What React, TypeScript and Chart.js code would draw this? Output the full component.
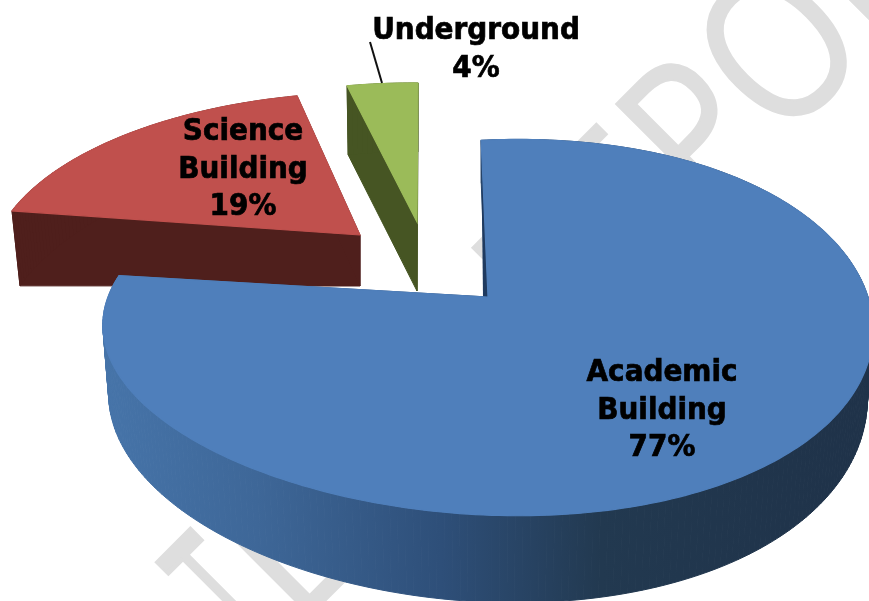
import React, { useEffect, useRef } from "react";
import { Chart, registerables } from "chart.js";

Chart.register(...registerables);

const categories = ["Academic Building", "Science Building", "Underground"];
const shares = [77.4, 18.8, 3.8];
const faceColors = ["#4f7fbb", "#c0504d", "#9bbb59"];
const sideColors = ["", "#4f1f1c", "#465523"];
const labelLines = [["Academic", "Building", "77%"], ["Science", "Building", "19%"], ["Underground", "4%"]];
const watermarkPieces = [
  { text: "T", along: -263, squeeze: 0.45, align: "center", grow: 5 },
  { text: "L", along: -233, squeeze: 0.85, align: "left", grow: 2 },
  { text: "REPORT", along: 345, squeeze: 0.85, align: "head", grow: 2 },
];

// projection styling for the exploded 3D look
const RX = 380;
const RY = 182.6;
const PERSP = 0.163;
const looks = [
  { ax: 488, ay: 297, m: [1, 0, 0, 1], bulge: 0.08, inset: 0.985, depth: 65, depthV: 22, slope: 0 },
  { ax: 360, ay: 235, m: [0.9501, -0.1128, 0.00848, 0.9074], bulge: 0, inset: 0.977, depth: 51, depthV: 0, slope: -0.069 },
  { ax: 417, ay: 222, m: [0.912, -0.0459, 0.0141, 0.885], bulge: 0, inset: 0.985, depth: 69, depthV: 0, slope: 0 },
];
const labelAnchors = [
  { x: 662, y: 373 },
  { x: 243, y: 132 },
  { x: 476, y: 31 },
];
const LINE_H = 37.5;

const project = (look: any, a: number) => {
  const u = Math.cos(a);
  const v = Math.sin(a);
  const s = 1 / (1 - PERSP * v);
  const mx = RX * u * s;
  const my = RY * v * s * (1 + look.bulge * u);
  const [p, q, r, t] = look.m;
  return { dx: p * mx + q * my, dy: r * mx + t * my, v };
};

const pie3d = {
  id: "pie3d",
  beforeDatasetsDraw(chart: any) {
    const ctx = chart.ctx as CanvasRenderingContext2D;
    // watermark behind the pie
    const sum = 926;
    for (const piece of watermarkPieces) {
      ctx.save();
      ctx.font = "204px 'Open Sans'";
      ctx.fillStyle = "#dedede";
      ctx.strokeStyle = "#dedede";
      ctx.lineWidth = piece.grow;
      ctx.lineJoin = "miter";
      const shift = piece.align === "head" ? ctx.measureText("RE").width * piece.squeeze : 0;
      const diff = (piece.along - shift) * Math.SQRT2;
      ctx.translate((sum + diff) / 2, (sum - diff) / 2);
      ctx.rotate(-Math.PI / 4);
      ctx.scale(piece.squeeze, 1);
      ctx.textBaseline = "alphabetic";
      ctx.textAlign = piece.align === "center" ? "center" : "left";
      ctx.fillText(piece.text, 0, 0);
      ctx.strokeText(piece.text, 0, 0);
      ctx.restore();
    }

    const meta = chart.getDatasetMeta(0);
    const order = [1, 2, 0];
    for (const i of order) {
      const arc = meta.data[i] as any;
      const look = looks[i];
      const top: { x: number; y: number; bx: number; by: number }[] = [];
      const addPoint = (dx: number, dy: number, v: number) => {
        top.push({
          x: look.ax + dx,
          y: look.ay + dy,
          bx: look.ax + dx * look.inset,
          by: look.ay + dy + look.depth + look.depthV * v + look.slope * dx,
        });
      };
      addPoint(0, 0, 0);
      const steps = Math.ceil(((arc.endAngle - arc.startAngle) * 180) / Math.PI);
      for (let k = 0; k <= steps; k++) {
        const a = arc.startAngle + ((arc.endAngle - arc.startAngle) * k) / steps;
        const p = project(look, a);
        addPoint(p.dx, p.dy, p.v);
      }
      let side: any = sideColors[i];
      if (i === 0) {
        const g = ctx.createLinearGradient(104, 0, 869, 0);
        g.addColorStop(0, "#4674a9");
        g.addColorStop(0.2, "#3e6798");
        g.addColorStop(0.44, "#2e4f79");
        g.addColorStop(0.65, "#223950");
        g.addColorStop(1, "#1f3249");
        side = g;
      }
      ctx.save();
      ctx.fillStyle = side;
      ctx.strokeStyle = side;
      ctx.lineWidth = 1;
      for (let k = 0; k < top.length; k++) {
        const a = top[k];
        const b = top[(k + 1) % top.length];
        ctx.beginPath();
        ctx.moveTo(a.x, a.y);
        ctx.lineTo(b.x, b.y);
        ctx.lineTo(b.bx, b.by);
        ctx.lineTo(a.bx, a.by);
        ctx.closePath();
        ctx.fill();
        ctx.stroke();
      }
      if (i === 0) {
        const start = top[1];
        ctx.fillStyle = "#1f3a5f";
        ctx.beginPath();
        ctx.moveTo(start.x, start.y);
        ctx.lineTo(look.ax, look.ay + 1);
        ctx.lineTo(look.ax - 5, look.ay + 1);
        ctx.closePath();
        ctx.fill();
      }
      ctx.fillStyle = arc.options.backgroundColor;
      ctx.strokeStyle = arc.options.backgroundColor;
      ctx.lineWidth = 1.2;
      ctx.beginPath();
      top.forEach((p, k) => (k ? ctx.lineTo(p.x, p.y) : ctx.moveTo(p.x, p.y)));
      ctx.closePath();
      ctx.fill();
      ctx.stroke();
      ctx.restore();
    }

    // leader line and labels
    ctx.save();
    ctx.strokeStyle = "#111";
    ctx.lineWidth = 2;
    ctx.beginPath();
    ctx.moveTo(370, 42);
    ctx.lineTo(382, 83);
    ctx.stroke();
    ctx.fillStyle = "#000";
    ctx.strokeStyle = "#000";
    ctx.lineWidth = 0.7;
    ctx.font = "bold 31px 'DejaVu Sans Condensed', 'DejaVu Sans'";
    ctx.textAlign = "center";
    ctx.textBaseline = "middle";
    labelLines.forEach((lines, i) => {
      lines.forEach((t, j) => {
        const y = labelAnchors[i].y + j * LINE_H;
        ctx.fillText(t, labelAnchors[i].x, y);
        ctx.strokeText(t, labelAnchors[i].x, y);
      });
    });
    ctx.restore();
    return false;
  },
};

export default function App() {
  const ref = useRef<HTMLCanvasElement>(null);
  useEffect(() => {
    document.body.style.margin = "0";
    const chart = new Chart(ref.current as HTMLCanvasElement, {
      type: "pie",
      data: {
        labels: categories,
        datasets: [{ data: shares, backgroundColor: faceColors, borderWidth: 0 }],
      },
      options: {
        responsive: false,
        animation: false,
        rotation: -1.2,
        plugins: { legend: { display: false }, tooltip: { enabled: false } },
      },
      plugins: [pie3d],
    } as any);
    return () => chart.destroy();
  }, []);
  return <canvas ref={ref} width={869} height={601} style={{ display: "block", background: "#fff" }} />;
}
